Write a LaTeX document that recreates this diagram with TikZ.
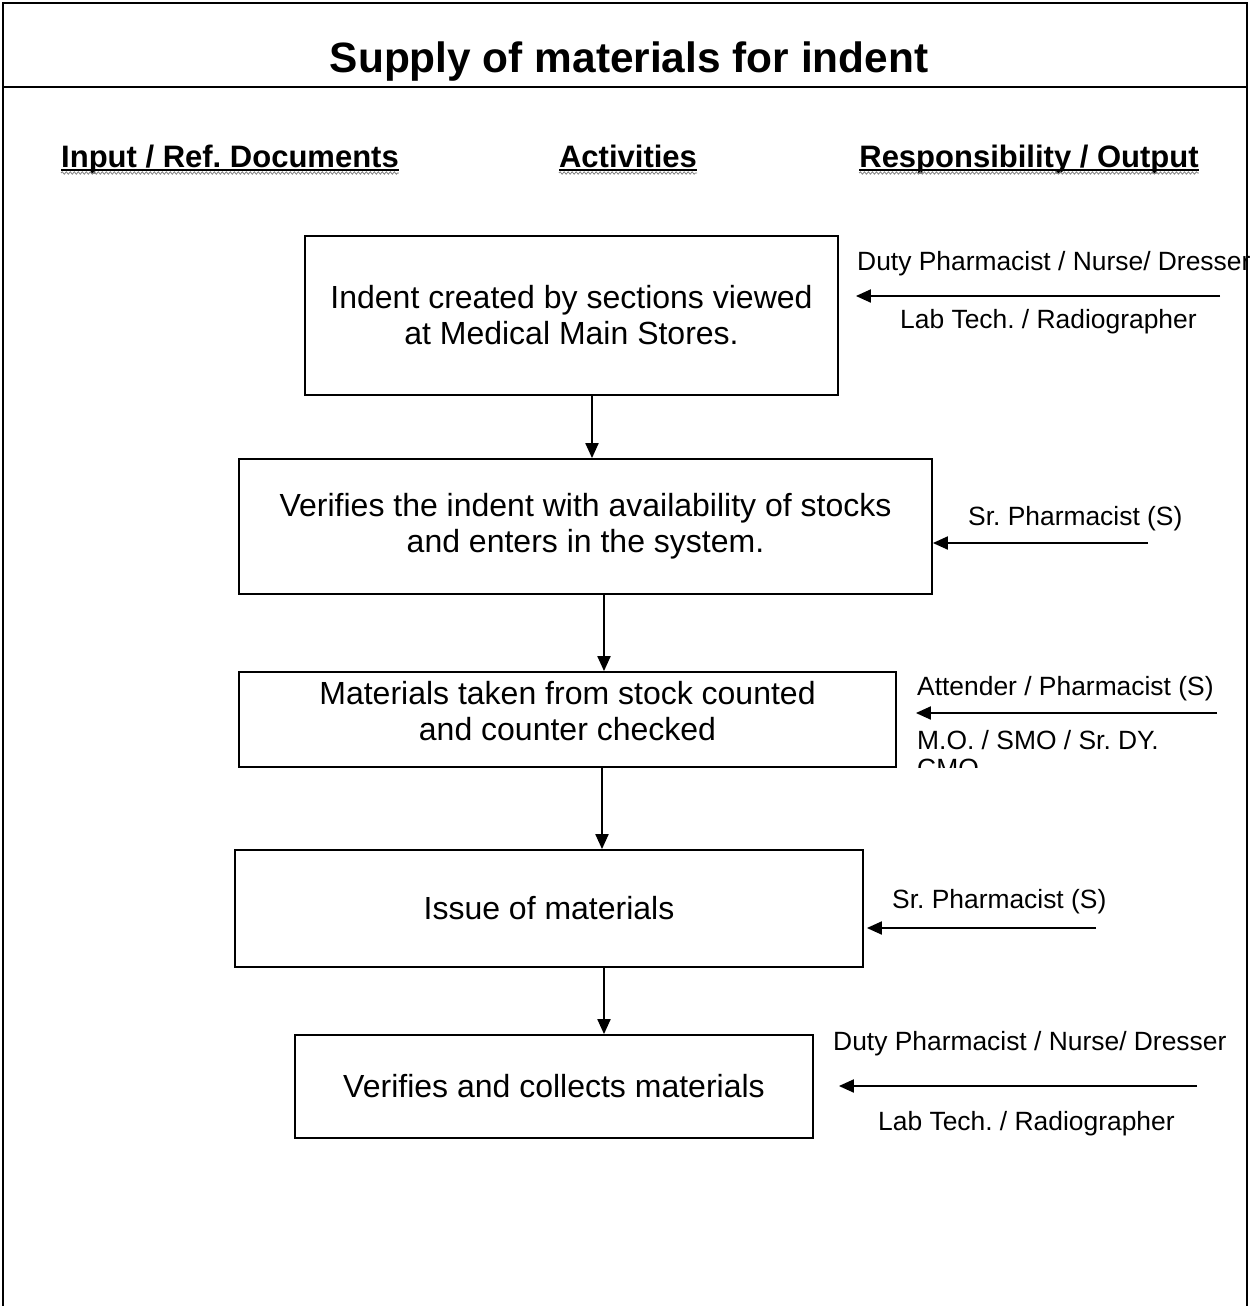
\documentclass[tikz,border=0pt]{standalone}
\usepackage{fontspec}
\setmainfont{Liberation Sans}
\usetikzlibrary{arrows.meta,calc,decorations.pathmorphing}
\frenchspacing

\tikzset{
  frame/.style={line width=2.5pt},
  actbox/.style={draw,line width=1.8pt,inner sep=0pt,align=center,font=\fontsize{32}{36}\selectfont},
  acttext/.style={inner sep=0pt,align=center,font=\fontsize{32}{36}\selectfont},
  flow/.style={line width=2pt,-{Triangle[length=15pt,width=13pt]}},
  who/.style={anchor=base west,inner sep=0pt,font=\fontsize{26.4}{30}\selectfont},
  colhead/.style={anchor=base,inner sep=0pt,font=\bfseries\fontsize{31}{36}\selectfont},
  wavy/.style={gray,line width=0.8pt,decorate,decoration={snake,amplitude=1.2pt,segment length=4pt}}
}

\begin{document}
\begin{tikzpicture}[x=1pt,y=-1pt]
  \useasboundingbox (0,0) rectangle (1259,1306);
  % page frame, open at the bottom
  \draw[frame] (3,1306) -- (3,3) -- (1247,3) -- (1247,1306);
  \draw[frame] (3,87) -- (1247,87);
  \node[anchor=base,inner sep=0pt,font=\bfseries\fontsize{42.4}{48}\selectfont] (title) at (629,72) {Supply of materials for indent};

  % column headings
  \node[colhead] (hin) at (230,167) {Input / Ref. Documents};
  \node[colhead] (hact) at (628,167) {Activities};
  \node[colhead] (hout) at (1029,167) {Responsibility / Output};
  \foreach \h in {hin,hact,hout} {
    \draw[line width=1.5pt] ([yshift=-3pt]\h.base west) -- ([yshift=-3pt]\h.base east);
    \draw[wavy] ([yshift=-6pt]\h.base west) -- ([yshift=-6pt]\h.base east);
  }

  % activities
  \node[actbox,minimum width=533,minimum height=159] (indent) at (571.5,315.5)
    {Indent created by sections viewed\\at Medical Main Stores.};
  \node[actbox,minimum width=693,minimum height=135] (verify) at (585.5,526.5)
    {Verifies the indent with availability of stocks\\and enters in the system.};
  \node[actbox,minimum width=657,minimum height=95] (count) at (567.5,719.5) {};
  \node[acttext] (countText) at ([yshift=8pt]count.center)
    {Materials taken from stock counted\\and counter checked};
  \node[actbox,minimum width=628,minimum height=117] (issue) at (549,908.5)
    {Issue of materials};
  \node[actbox,minimum width=518,minimum height=103] (collect) at (554,1086.5)
    {Verifies and collects materials};

  \draw[flow] ([xshift=20.5pt]indent.south) -- ([xshift=20.5pt]indent.south |- verify.north);
  \draw[flow] ([xshift=18.5pt]verify.south) -- ([xshift=18.5pt]verify.south |- count.north);
  \draw[flow] ([xshift=34.5pt]count.south) -- ([xshift=34.5pt]count.south |- issue.north);
  \draw[flow] ([xshift=55pt]issue.south) -- ([xshift=55pt]issue.south |- collect.north);

  % responsibility
  \coordinate (r1) at (1220,296);
  \coordinate (r2) at (1148,543);
  \coordinate (r3) at (1217,713);
  \coordinate (r4) at (1096,928);
  \coordinate (r5) at (1197,1086);
  \draw[flow] (r1) -- ($(r1 -| indent.east)+(17,0)$);
  \draw[flow] (r2) -- (r2 -| verify.east);
  \draw[flow] (r3) -- ($(r3 -| count.east)+(19,0)$);
  \draw[flow] (r4) -- ($(r4 -| issue.east)+(3,0)$);
  \draw[flow] (r5) -- ($(r5 -| collect.east)+(25,0)$);

  \node[who] (who1a) at (857,270) {Duty Pharmacist / Nurse/ Dresser};
  \node[who] (who1b) at (900,328) {Lab Tech. / Radiographer};
  \node[who] (who2) at (968,525) {Sr. Pharmacist (S)};
  \node[who] (who3a) at (917,695) {Attender / Pharmacist (S)};
  \node[who] (who3b) at (917,749) {M.O. / SMO / Sr. DY.};
  \begin{scope}
    \clip (900,700) rectangle (1245,767);
    \node[who] (who3c) at (917,777) {CMO};
  \end{scope}
  \node[who] (who4) at (892,908) {Sr. Pharmacist (S)};
  \node[who] (who5a) at (833,1050) {Duty Pharmacist / Nurse/ Dresser};
  \node[who] (who5b) at (878,1130) {Lab Tech. / Radiographer};
\end{tikzpicture}
\end{document}
